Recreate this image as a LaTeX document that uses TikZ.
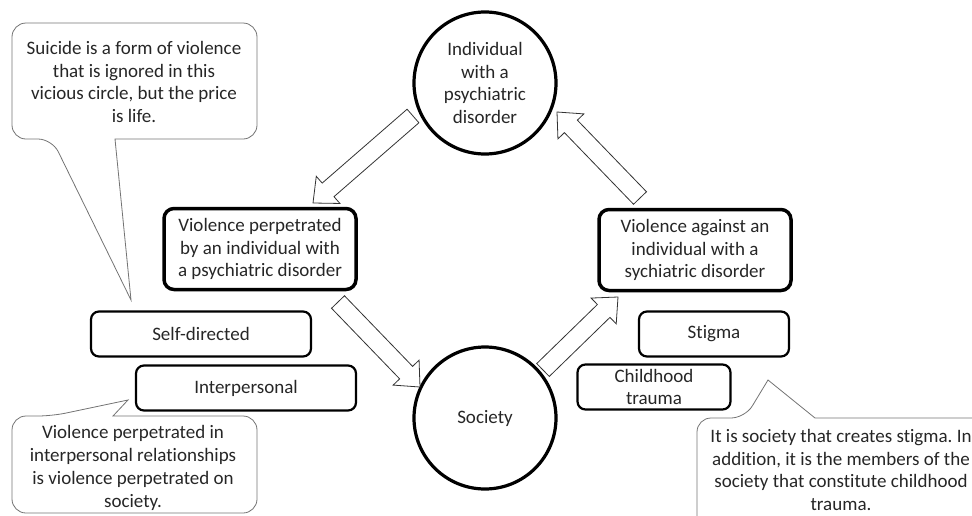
\documentclass[tikz,border=0pt]{standalone}
\usepackage{fontspec}
\setmainfont{Carlito}[Ligatures=NoCommon]
\usetikzlibrary{calc}
\frenchspacing

% hollow block arrow from #1 (tail) to #2 (tip)
\newcommand{\blockarrow}[2]{%
  \coordinate (ba-p) at ($(#2)!20pt!(#1)$);
  \draw[hollow] ($(#1)!9pt!90:(#2)$) -- ($(ba-p)!9pt!-90:(#1)$) -- ($(ba-p)!18pt!-90:(#1)$)
    -- (#2) -- ($(ba-p)!18pt!90:(#1)$) -- ($(ba-p)!9pt!90:(#1)$) -- ($(#1)!9pt!-90:(#2)$) -- cycle;}

\begin{document}
\begin{tikzpicture}[x=1pt, y=-1pt,
    every node/.style={font=\fontsize{19}{22.8}\selectfont, align=center, text=black!85},
    round/.style={circle, draw, line width=3.2pt, minimum size=142pt, inner sep=0pt},
    mainbox/.style={draw, rounded corners=10pt, line width=3.5pt, minimum width=192pt, minimum height=81pt},
    subbox/.style={draw, rounded corners=8pt, line width=2.2pt, minimum height=45pt},
    bubble/.style={draw=black!55, line width=0.8pt},
    hollow/.style={draw=black!80, line width=0.8pt, fill=white}]
    \useasboundingbox (0,0) rectangle (972,515);
    \clip (0,0) rectangle (972,515);

    % Circles
    \node[round] (indiv) at (485,83) {Individual\\with a\\psychiatric\\disorder};
    \node[round] (society) at (485,418) {Society};

    % Violence boxes
    \node[mainbox] (perp) at (260,249) {Violence perpetrated\\by an individual with\\a psychiatric disorder};
    \node[mainbox] (against) at (695,250) {Violence against an\\individual with a\\sychiatric disorder};

    % Forms of violence
    \node[subbox, minimum width=220pt] (self) at (201,334) {Self-directed};
    \node[subbox, minimum width=220pt] (inter) at (246,388) {Interpersonal};
    \node[subbox, minimum width=150pt] (stigma) at (714,334) {Stigma};
    \node[subbox, minimum width=153pt] (child) at (654,387) {Childhood\\trauma};

    % Block arrows round the circle
    \coordinate (a1s) at (413,116); \coordinate (a1e) at (313,203);
    \coordinate (a2s) at (640,198); \coordinate (a2e) at (557,112);
    \coordinate (a3s) at (338,302); \coordinate (a3e) at (420,387);
    \coordinate (a4s) at (543,370); \coordinate (a4e) at (618,297);
    \blockarrow{a1s}{a1e}
    \blockarrow{a2s}{a2e}
    \blockarrow{a3s}{a3e}
    \blockarrow{a4s}{a4e}

    % Callouts
    \node (suicide) at (134,82) {Suicide is a form of violence\\that is ignored in this\\vicious circle, but the price\\is life.};
    \draw[bubble] (200,139) [rounded corners=14pt] -- (257,139) -- (257,23) -- (12,23) -- (12,139) -- (52,139)
        [sharp corners] -- (131,300) -- (115,139) -- cycle;

    \node (onsociety) at (133,468) {Violence perpetrated in\\interpersonal relationships\\is violence perpetrated on\\society.};
    \draw[bubble] (200,416) [rounded corners=14pt] -- (257,416) -- (257,513) -- (12,513) -- (12,416) -- (52,416)
        [sharp corners] -- (128,400) -- (113,416) -- cycle;

    \node (creates) at (841,470) {It is society that creates stigma. In\\addition, it is the members of the\\society that constitute childhood\\trauma.};
    \draw[bubble] (900,418) [rounded corners=14pt] -- (990,418) -- (990,540) -- (697,540) -- (697,418) -- (745,418)
        [sharp corners] -- (768,380) -- (815,418) -- cycle;
\end{tikzpicture}
\end{document}
